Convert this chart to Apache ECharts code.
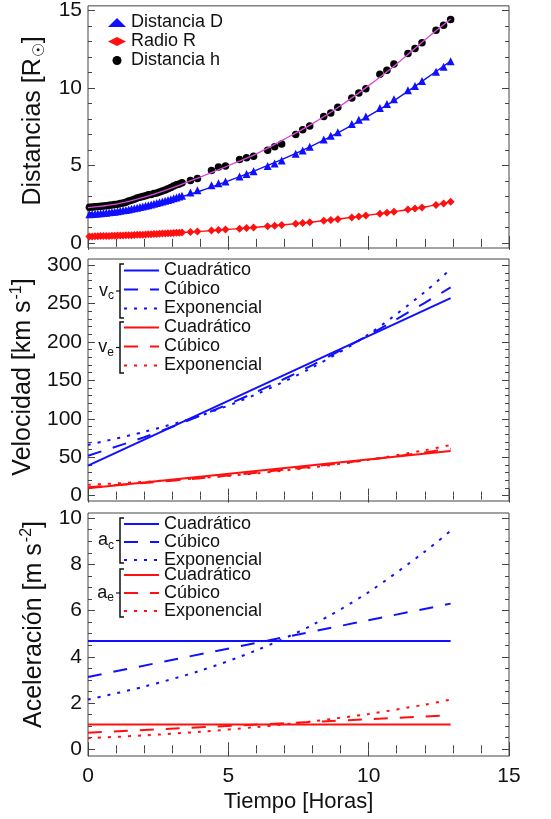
<!DOCTYPE html>
<html>
<head>
<meta charset="utf-8">
<script src="https://cdn.jsdelivr.net/npm/echarts@6/dist/echarts.min.js"></script>
<style>
  html, body { margin: 0; background: #fff; }
  #chart { width: 551px; height: 819px; }
</style>
</head>
<body>
<div id="chart"></div>
<script>
// --- observed distances (top panel) ---
var tObs = [0.05, 0.15, 0.25, 0.35, 0.45, 0.55, 0.65, 0.75, 0.85, 0.95, 1.05, 1.15, 1.25, 1.35, 1.45, 1.55, 1.65,
  1.75, 1.85, 1.95, 2.05, 2.15, 2.25, 2.35, 2.45, 2.55, 2.65, 2.75, 2.85, 2.95, 3.05, 3.15, 3.25, 3.35,
  3.65, 3.9, 4.4, 4.65, 4.9, 5.4, 5.65, 5.9, 6.4, 6.65, 6.9, 7.4, 7.65, 7.9, 8.4, 8.65, 8.9,
  9.4, 9.65, 9.9, 10.4, 10.65, 10.9, 11.4, 11.65, 11.9, 12.4, 12.67, 12.92];
var dObs = [1.85, 1.86, 1.88, 1.89, 1.91, 1.93, 1.95, 1.97, 1.99, 2.01, 2.04, 2.07, 2.10, 2.13, 2.16, 2.20, 2.23,
  2.27, 2.31, 2.35, 2.39, 2.43, 2.48, 2.52, 2.57, 2.62, 2.67, 2.72, 2.77, 2.82, 2.88, 2.93, 2.99, 3.04,
  3.25, 3.4, 3.72, 3.85, 3.97, 4.29, 4.44, 4.62, 4.96, 5.12, 5.32, 5.75, 5.96, 6.2, 6.67, 6.92, 7.14,
  7.67, 7.95, 8.16, 8.7, 8.96, 9.27, 9.85, 10.13, 10.45, 11.05, 11.37, 11.73];
var rObs = [0.42, 0.42, 0.43, 0.43, 0.44, 0.44, 0.45, 0.45, 0.46, 0.46, 0.47, 0.47, 0.48, 0.49, 0.49, 0.50, 0.51,
  0.52, 0.52, 0.53, 0.54, 0.55, 0.56, 0.57, 0.58, 0.59, 0.60, 0.61, 0.62, 0.63, 0.64, 0.65, 0.66, 0.67,
  0.71, 0.74, 0.8, 0.83, 0.86, 0.92, 0.96, 1.0, 1.07, 1.11, 1.15, 1.24, 1.29, 1.33, 1.43, 1.48, 1.53,
  1.64, 1.7, 1.76, 1.88, 1.95, 2.01, 2.15, 2.22, 2.29, 2.45, 2.55, 2.65];
var hObs = [2.30, 2.32, 2.33, 2.35, 2.37, 2.38, 2.40, 2.43, 2.45, 2.47, 2.50, 2.55, 2.58, 2.62, 2.70, 2.75, 2.82,
  2.90, 2.95, 3.00, 3.05, 3.10, 3.13, 3.18, 3.22, 3.28, 3.35, 3.42, 3.50, 3.58, 3.68, 3.75, 3.80, 3.88,
  4.02, 4.15, 4.68, 4.9, 4.96, 5.38, 5.5, 5.6, 5.98, 6.2, 6.38, 7.0, 7.3, 7.55, 8.15, 8.38, 8.75,
  9.35, 9.68, 9.95, 10.88, 11.15, 11.55, 12.22, 12.55, 12.92, 13.72, 14.05, 14.42];

// --- fitted distance curves ---
var tFit = [0, 1, 2, 3, 4, 5, 6, 7, 8, 9, 10, 11, 12, 12.92];
var dFit = [1.84, 2.02, 2.35, 2.8, 3.35, 4.0, 4.7, 5.45, 6.28, 7.2, 8.2, 9.3, 10.55, 11.73];
var rFit = [0.42, 0.47, 0.54, 0.63, 0.74, 0.87, 1.01, 1.17, 1.35, 1.56, 1.79, 2.04, 2.32, 2.65];
var hFit = [2.28, 2.5, 2.95, 3.55, 4.25, 4.98, 5.75, 6.7, 7.7, 8.85, 10.15, 11.55, 13.1, 14.45];

// --- velocities and accelerations ---
var tEnds = [0, 12.92];
var tCurve = [0, 2, 4, 6, 8, 10, 12, 12.92];
var vcQuad = [39, 257];
var vcCub = [52, 76, 104, 135, 170, 209, 251, 271];
var vcExp = [66, 83, 104, 132, 167, 210, 265, 295];
var veQuad = [9.5, 58];
var veCub = [11, 16.5, 22.7, 29.9, 37.9, 46.6, 56.3, 61];
var veExp = [14, 17.9, 22.8, 29, 36.8, 46.6, 59, 66];
var acQuad = [4.68, 4.68];
var acCub = [3.13, 6.3];
var acExp = [2.15, 2.71, 3.4, 4.28, 5.38, 6.8, 8.55, 9.45];
var aeQuad = [1.07, 1.07];
var aeCub = [0.72, 1.47];
var aeExp = [0.48, 0.6, 0.76, 0.96, 1.21, 1.53, 1.93, 2.15];

// --- ticks and labels ---
var xTicks = [0, 5, 10, 15];
var yMajor = [[0, 5, 10, 15], [0, 50, 100, 150, 200, 250, 300], [0, 2, 4, 6, 8, 10]];
var yMinorStep = [1, 10, 0.5];
var yRange = [[-0.33, 15.3], [-7, 308], [-0.29, 10.22]];
var yNames = ['Distancias [R{sub|\u2609}]', 'Velocidad [km s{sup|-1}]', 'Aceleraci\u00f3n [m s{sup|-2}]'];
var xName = 'Tiempo [Horas]';
var fitLabels = ['Cuadr\u00e1tico', 'C\u00fabico', 'Exponencial'];

var FONT = 'Liberation Sans, Arial, Helvetica, sans-serif';
var INK = '#111';
var FRAME = '#444';
var BLUE = '#1010ff', RED = '#ff1010', MAGENTA = '#d84bd8';
var DASH = [14, 12], DOT = [3, 7];
// name shift upward (rotated text, applied as left padding)
var namePad = [12, 6, 20];

function pts(ts, vs) {
  return ts.map(function (t, i) { return [t, vs[i]]; });
}

function minorList(g) {
  var out = [], step = yMinorStep[g], majors = yMajor[g];
  for (var v = majors[0]; v <= majors[majors.length - 1] + 1e-9; v += step) {
    var r = Math.round(v * 100) / 100;
    if (majors.indexOf(r) < 0) out.push(r);
  }
  return out;
}

function xAxes(g) {
  function one(pos) {
    var ax = {
      type: 'value', gridIndex: g, position: pos, min: xTicks[0], max: xTicks[xTicks.length - 1], interval: 5,
      axisLine: { show: false }, splitLine: { show: false },
      axisTick: { show: true, inside: true, length: 7, lineStyle: { color: FRAME } },
      minorTick: { show: true, splitNumber: 5, length: 4, lineStyle: { color: FRAME } },
      axisLabel: { show: false }
    };
    if (g === 2 && pos === 'bottom') {
      ax.axisLabel = { show: true, margin: 10, fontFamily: FONT, fontSize: 21, color: INK };
      ax.name = xName;
      ax.nameLocation = 'middle';
      ax.nameGap = 35;
      ax.nameTextStyle = { fontFamily: FONT, fontSize: 22, color: INK };
    }
    return ax;
  }
  return [one('bottom'), one('top')];
}

function yAxes(g) {
  function one(pos, ticks, len, label) {
    var ax = {
      type: 'value', gridIndex: g, position: pos, min: yRange[g][0], max: yRange[g][1],
      axisLine: { show: false }, splitLine: { show: false },
      axisTick: { show: true, inside: true, length: len, customValues: ticks, lineStyle: { color: FRAME } },
      axisLabel: { show: false }
    };
    if (label) {
      ax.axisLabel = { show: true, customValues: ticks, margin: 6, fontFamily: FONT, fontSize: 21, color: INK };
      ax.name = yNames[g];
      ax.nameLocation = 'middle';
      ax.nameGap = 39;
      ax.nameTextStyle = {
        fontFamily: FONT, fontSize: 25, color: INK, padding: [0, 0, 0, namePad[g]],
        rich: {
          sub: { fontFamily: FONT, fontSize: 16, color: INK, padding: [14, 0, 0, 1] },
          sup: { fontFamily: FONT, fontSize: 16, color: INK, padding: [0, 0, 14, 1] }
        }
      };
    }
    return ax;
  }
  var minor = minorList(g);
  return [one('left', yMajor[g], 7, true), one('left', minor, 4, false),
    one('right', yMajor[g], 7, false), one('right', minor, 4, false)];
}

function curve(name, g, ts, vs, color, dash, width) {
  return {
    name: name, type: 'line', xAxisIndex: 2 * g, yAxisIndex: 4 * g,
    data: pts(ts, vs), showSymbol: false, symbol: 'none', smooth: 0.3,
    lineStyle: { color: color, width: width || 2, type: dash || 'solid', cap: 'butt' },
    itemStyle: { color: color }, z: 3, animation: false
  };
}

function dots(name, symbol, size, color, vs) {
  return {
    name: name, type: 'scatter', xAxisIndex: 0, yAxisIndex: 0,
    data: pts(tObs, vs),
    symbol: symbol, symbolSize: size, itemStyle: { color: color, opacity: 1 }, z: 2, animation: false
  };
}

var legendText = {};
['c', 'e'].forEach(function (k) {
  ['v', 'a'].forEach(function (q) {
    legendText[q + k + '1'] = fitLabels[0];
    legendText[q + k + '2'] = fitLabels[1];
    legendText[q + k + '3'] = fitLabels[2];
  });
});

function fitLegend(prefix, top, rowH) {
  return {
    orient: 'vertical', left: 123, top: top, padding: 0, itemGap: 0,
    itemWidth: 35, itemHeight: 10, selectedMode: false,
    itemStyle: { opacity: 0 },
    data: [prefix + '1', prefix + '2', prefix + '3'],
    formatter: function (n) { return legendText[n]; },
    textStyle: { fontFamily: FONT, fontSize: 18, color: INK, lineHeight: rowH }
  };
}

function bracket(x, y1, y2) {
  var mid = (y1 + y2) / 2;
  return [
    { type: 'polyline', shape: { points: [[x + 4, y1], [x, y1], [x, y2], [x + 4, y2]] },
      style: { stroke: INK, lineWidth: 1.5, fill: null } },
    { type: 'line', shape: { x1: x - 4, y1: mid, x2: x, y2: mid }, style: { stroke: INK, lineWidth: 1.2 } }
  ];
}

function tag(main, sub, x, y) {
  return {
    type: 'text', x: x, y: y,
    style: {
      text: main + '{s|' + sub + '}', align: 'right', verticalAlign: 'middle',
      fontFamily: FONT, fontSize: 18, fill: INK,
      rich: { s: { fontFamily: FONT, fontSize: 12, fill: INK, padding: [10, 0, 0, 0] } }
    }
  };
}

var graphics = []
  .concat(bracket(120, 264, 318), bracket(120, 322, 373))
  .concat(bracket(120, 518, 563), bracket(120, 569, 617))
  .concat([tag('v', 'c', 114, 291), tag('v', 'e', 114, 347.5),
    tag('a', 'c', 114, 540.5), tag('a', 'e', 114, 593)]);

var option = {
  backgroundColor: '#fff',
  animation: false,
  grid: [
    { left: 88, width: 421, top: 5, height: 243, show: true, borderColor: FRAME, borderWidth: 1, backgroundColor: 'transparent' },
    { left: 88, width: 421, top: 259, height: 242, show: true, borderColor: FRAME, borderWidth: 1, backgroundColor: 'transparent' },
    { left: 88, width: 421, top: 513, height: 243, show: true, borderColor: FRAME, borderWidth: 1, backgroundColor: 'transparent' }
  ],
  xAxis: [].concat(xAxes(0), xAxes(1), xAxes(2)),
  yAxis: [].concat(yAxes(0), yAxes(1), yAxes(2)),
  legend: [
    {
      orient: 'vertical', left: 108, top: 13, padding: 0, itemGap: 0,
      itemWidth: 18, itemHeight: 9, selectedMode: false,
      data: ['Distancia D', 'Radio R', 'Distancia h'],
      textStyle: { fontFamily: FONT, fontSize: 18, color: INK, lineHeight: 19 }
    },
    fitLegend('vc', 261, 19),
    fitLegend('ve', 318, 19),
    fitLegend('ac', 515, 16),
    fitLegend('ae', 566, 16)
  ],
  graphic: graphics,
  series: [
    dots('Distancia D', 'triangle', 8, BLUE, dObs),
    dots('Radio R', 'diamond', 8, RED, rObs),
    dots('Distancia h', 'circle', 7.5, '#000', hObs),
    curve('fitD', 0, tFit, dFit, BLUE, 'solid', 1.4),
    curve('fitR', 0, tFit, rFit, RED, 'solid', 1.4),
    curve('fitH', 0, tFit, hFit, MAGENTA, 'solid', 1.3),

    curve('vc1', 1, tEnds, vcQuad, BLUE),
    curve('vc2', 1, tCurve, vcCub, BLUE, DASH),
    curve('vc3', 1, tCurve, vcExp, BLUE, DOT),
    curve('ve1', 1, tEnds, veQuad, RED),
    curve('ve2', 1, tCurve, veCub, RED, DASH),
    curve('ve3', 1, tCurve, veExp, RED, DOT),

    curve('ac1', 2, tEnds, acQuad, BLUE),
    curve('ac2', 2, tEnds, acCub, BLUE, DASH),
    curve('ac3', 2, tCurve, acExp, BLUE, DOT),
    curve('ae1', 2, tEnds, aeQuad, RED),
    curve('ae2', 2, tEnds, aeCub, RED, DASH),
    curve('ae3', 2, tCurve, aeExp, RED, DOT)
  ]
};

var myChart = echarts.init(document.getElementById('chart'), null, { renderer: 'canvas' });
myChart.setOption(option, true);
</script>
</body>
</html>
